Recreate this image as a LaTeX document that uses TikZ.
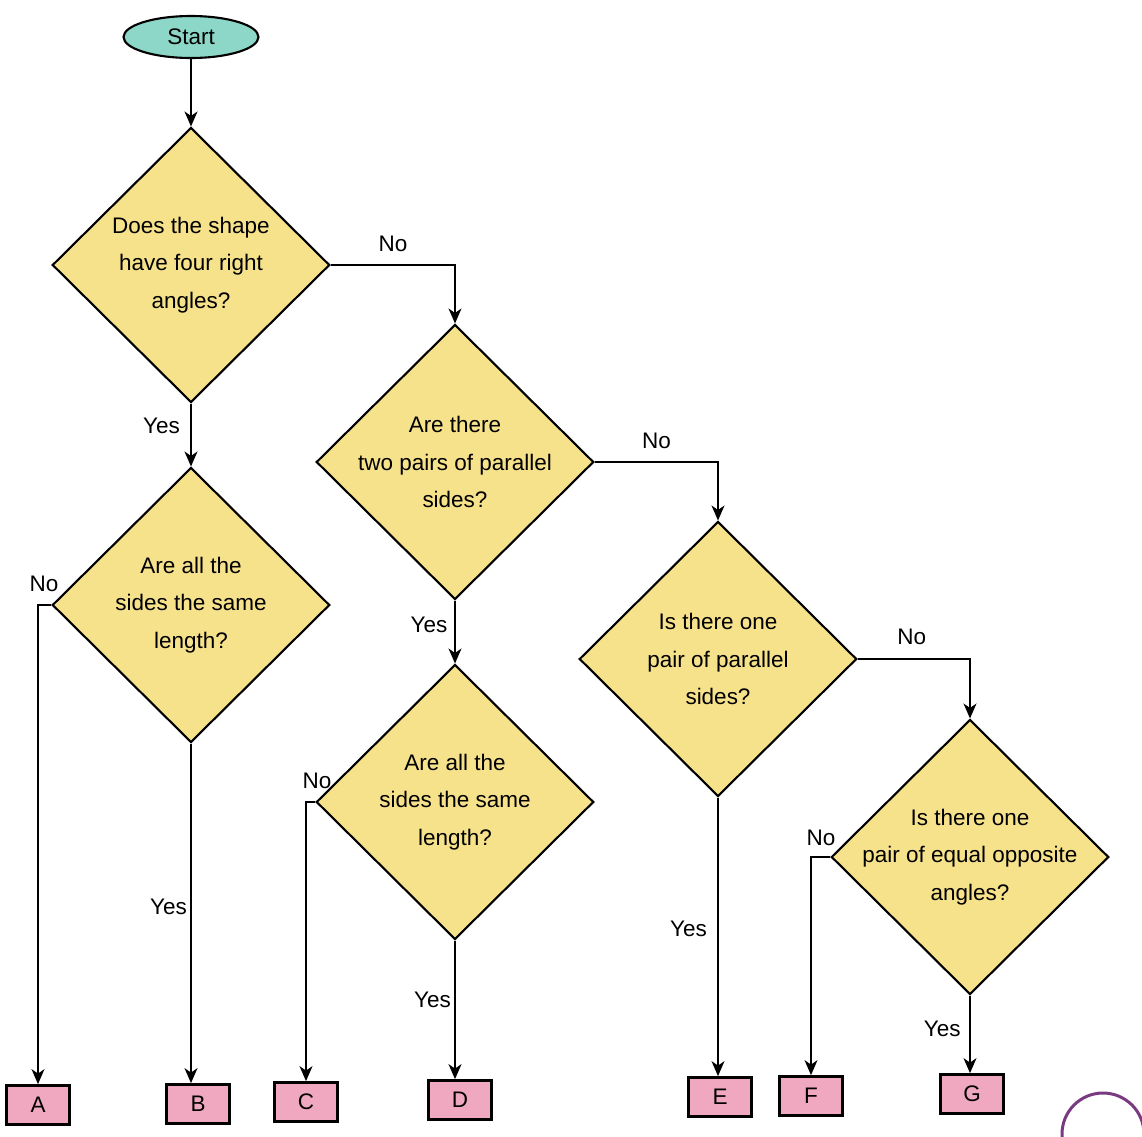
\documentclass[tikz,border=0pt]{standalone}
\usepackage{fontspec}
\setmainfont{Liberation Sans}
\usetikzlibrary{arrows.meta,shapes.geometric}

\definecolor{startteal}{HTML}{8CD7C8}
\definecolor{qyellow}{HTML}{F7E28C}
\definecolor{anspink}{HTML}{F0A8C0}
\definecolor{markpurple}{HTML}{7A3A80}

\begin{document}
\begin{tikzpicture}[
  x=0.02cm, y=-0.02cm,
  txt/.style={font=\fontsize{12.8}{21.3}\selectfont},
  startnode/.style={draw, ellipse, fill=startteal, line width=1.2pt, minimum width=2.7cm, minimum height=0.84cm, inner sep=0pt, txt},
  decision/.style={draw, diamond, fill=qyellow, line width=1.2pt, minimum width=5.55cm, minimum height=5.5cm, inner sep=0pt},
  question/.style={txt, align=center},
  answer/.style={draw, fill=anspink, line width=1.6pt, minimum width=1.26cm, minimum height=0.78cm, inner sep=0pt, txt},
  lbl/.style={txt, inner sep=2pt},
  arrow/.style={-{Stealth[length=3mm, width=2.6mm, inset=0.9mm]}, line width=0.8pt}
]
\useasboundingbox (0,0) rectangle (1142,1136);

% start and questions
\node[startnode] (start) at (191,37) {Start};
\node[decision] (q1) at (191,265) {};
\node[question] (q1text) at (q1) {Does the shape\\have four right\\angles?};
\node[decision] (q2) at (455,462) {};
\node[question] (q2text) at (q2) {Are there\\two pairs of parallel\\sides?};
\node[decision] (q3) at (191,605) {};
\node[question] (q3text) at (q3) {Are all the\\sides the same\\length?};
\node[decision] (q4) at (455,802) {};
\node[question] (q4text) at (q4) {Are all the\\sides the same\\length?};
\node[decision] (q5) at (718,659) {};
\node[question] (q5text) at (q5) {Is there one\\pair of parallel\\sides?};
\node[decision] (q6) at (970,857) {};
\node[question] (q6text) at (q6) {Is there one\\pair of equal opposite\\angles?};

% answers
\node[answer] (a) at (38,1105) {A};
\node[answer] (b) at (198,1104) {B};
\node[answer] (c) at (306,1102) {C};
\node[answer] (d) at (460,1100) {D};
\node[answer] (e) at (720,1097) {E};
\node[answer] (f) at (811,1096) {F};
\node[answer] (g) at (972,1094) {G};

\draw[arrow] (start) -- (q1);
\draw[arrow] (q1.east) -| node[lbl, pos=0.25, above=5pt] {No} (q2.north);
\draw[arrow] (q1.south) -- node[lbl, pos=0.35, left=4pt] {Yes} (q3.north);
\draw[arrow] (q2.east) -| node[lbl, pos=0.25, above=5pt] {No} (q5.north);
\draw[arrow] (q2.south) -- node[lbl, pos=0.38, left=2pt] {Yes} (q4.north);
\draw[arrow] (q5.east) -| node[lbl, pos=0.24, above=6pt] {No} (q6.north);

\draw[arrow] (q3.west) -| node[lbl, pos=0.5, above=5pt, xshift=0.12cm] {No} (a.north);
\draw[arrow] (q3.south) -- node[lbl, pos=0.48, left] {Yes} (q3.south |- b.north);
\draw[arrow] (q4.west) -| node[lbl, pos=0.5, above=5pt, xshift=0.22cm] {No} (c.north);
\draw[arrow] (q4.south) -- node[lbl, pos=0.43, left] {Yes} (q4.south |- d.north);
\draw[arrow] (q5.south) -- node[lbl, pos=0.47, left=4pt] {Yes} (q5.south |- e.north);
\draw[arrow] (q6.west) -| node[lbl, pos=0.5, above=4pt, xshift=0.2cm] {No} (f.north);
\draw[arrow] (q6.south) -- node[lbl, pos=0.43, left=3pt] {Yes} (q6.south |- g.north);

% page mark, cut by the edge
\begin{scope}
  \clip (0,0) rectangle (1142,1136);
  \draw[markpurple, line width=1.7pt] (1103,1134) circle[radius=0.82cm];
\end{scope}
\end{tikzpicture}
\end{document}
